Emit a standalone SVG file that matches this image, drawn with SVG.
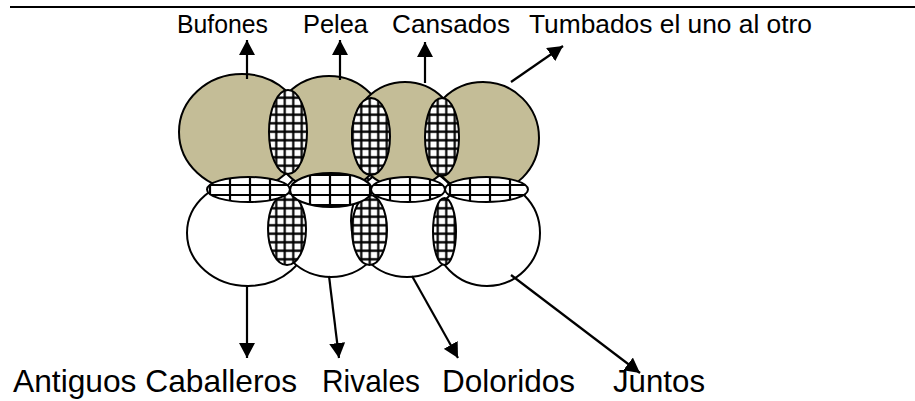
<svg xmlns="http://www.w3.org/2000/svg" width="915" height="401" viewBox="0 0 915 401">
<style>
.tan{fill:#c4bd97;stroke:#000;stroke-width:2}
.wht{fill:#fff;stroke:#000;stroke-width:2}
.gv{fill:url(#gridV);stroke:#000;stroke-width:2}
.gh{fill:url(#gridH);stroke:#000;stroke-width:2}
.lbl{font-family:"Liberation Sans",Arial,sans-serif;fill:#000}
.top{font-size:25px}
.bot{font-size:30.5px}
.arr{stroke:#000;stroke-width:2.2;fill:none;marker-end:url(#ah)}
</style>
<defs>
<marker id="ah" markerUnits="userSpaceOnUse" markerWidth="16" markerHeight="16" refX="15" refY="8" orient="auto">
<path d="M0,0 L15,8 L0,16 z" fill="#000"/>
</marker>
<pattern id="gridV" patternUnits="userSpaceOnUse" width="8.5" height="8.5">
<rect width="8.5" height="8.5" fill="#fff"/>
<path d="M4.25,0 V8.5 M0,4.25 H8.5" stroke="#000" stroke-width="2.2"/>
</pattern>
<pattern id="gridH" patternUnits="userSpaceOnUse" width="20" height="10">
<rect width="20" height="10" fill="#fff"/>
<path d="M10,0 V10 M0,5 H20" stroke="#000" stroke-width="2.2"/>
</pattern>
</defs>
<line x1="10" y1="7" x2="915" y2="7" stroke="#000" stroke-width="2"/>
<g id="bottom-circles">
<g id="antiguos-caballeros-circle"><ellipse class="wht" cx="248" cy="233" rx="61" ry="53"/></g>
<g id="rivales-circle"><circle class="wht" cx="331" cy="221" r="56"/></g>
<g id="doloridos-circle"><circle class="wht" cx="407" cy="221" r="56"/></g>
<g id="juntos-circle"><circle class="wht" cx="487" cy="233" r="53"/></g>
</g>
<g id="top-circles">
<g id="bufones-circle"><ellipse class="tan" cx="242" cy="132" rx="63" ry="58"/></g>
<g id="pelea-circle"><circle class="tan" cx="329" cy="134" r="58"/></g>
<g id="cansados-circle"><circle class="tan" cx="405" cy="135" r="53"/></g>
<g id="tumbados-circle"><circle class="tan" cx="483" cy="138" r="56"/></g>
</g>
<g id="overlaps">
<g id="e1"><ellipse class="gv" cx="288" cy="132" rx="19" ry="42"/></g>
<g id="e2"><ellipse class="gv" cx="371" cy="136.5" rx="19" ry="38.5"/></g>
<g id="e3"><ellipse class="gv" cx="442" cy="137" rx="17" ry="39"/></g>
<g id="v1"><ellipse class="gv" cx="287" cy="229" rx="19" ry="36"/></g>
<g id="v2"><ellipse class="gv" cx="369.5" cy="230" rx="17.5" ry="35"/></g>
<g id="v3"><ellipse class="gv" cx="444.5" cy="231.5" rx="11.5" ry="33.5"/></g>
<g id="h1"><ellipse class="gh" cx="248.5" cy="189.5" rx="41.5" ry="12.5"/></g>
<g id="h2"><ellipse class="gh" cx="331" cy="190" rx="41" ry="17"/></g>
<g id="h3"><ellipse class="gh" cx="408" cy="189.5" rx="37" ry="12.5"/></g>
<g id="h4"><ellipse class="gh" cx="486.5" cy="189.5" rx="41.5" ry="12.5"/></g>
</g>
<g id="connectors">
<line class="arr" x1="247" y1="79" x2="247" y2="40"/>
<line class="arr" x1="340" y1="80" x2="340" y2="40"/>
<line class="arr" x1="425" y1="83" x2="425" y2="42"/>
<line class="arr" x1="511" y1="82" x2="563" y2="46"/>
<line class="arr" x1="247" y1="286" x2="247" y2="358"/>
<line class="arr" x1="329" y1="276" x2="339" y2="358"/>
<line class="arr" x1="412" y1="276" x2="458" y2="358"/>
<line class="arr" x1="511" y1="275" x2="640" y2="373"/>
</g>
<g id="label-bufones"><text class="lbl top" x="177" y="33" textLength="91" lengthAdjust="spacingAndGlyphs">Bufones</text></g>
<g id="label-pelea"><text class="lbl top" x="303" y="33" textLength="65" lengthAdjust="spacingAndGlyphs">Pelea</text></g>
<g id="label-cansados"><text class="lbl top" x="392" y="33" textLength="118" lengthAdjust="spacingAndGlyphs">Cansados</text></g>
<g id="label-tumbados"><text class="lbl top" x="529" y="33" textLength="283" lengthAdjust="spacingAndGlyphs">Tumbados el uno al otro</text></g>
<g id="label-antiguos"><text class="lbl bot" x="13" y="392" textLength="284" lengthAdjust="spacingAndGlyphs">Antiguos Caballeros</text></g>
<g id="label-rivales"><text class="lbl bot" x="322" y="392" textLength="98" lengthAdjust="spacingAndGlyphs">Rivales</text></g>
<g id="label-doloridos"><text class="lbl bot" x="442" y="392" textLength="133" lengthAdjust="spacingAndGlyphs">Doloridos</text></g>
<g id="label-juntos"><text class="lbl bot" x="613" y="392" textLength="92" lengthAdjust="spacingAndGlyphs">Juntos</text></g>
</svg>
